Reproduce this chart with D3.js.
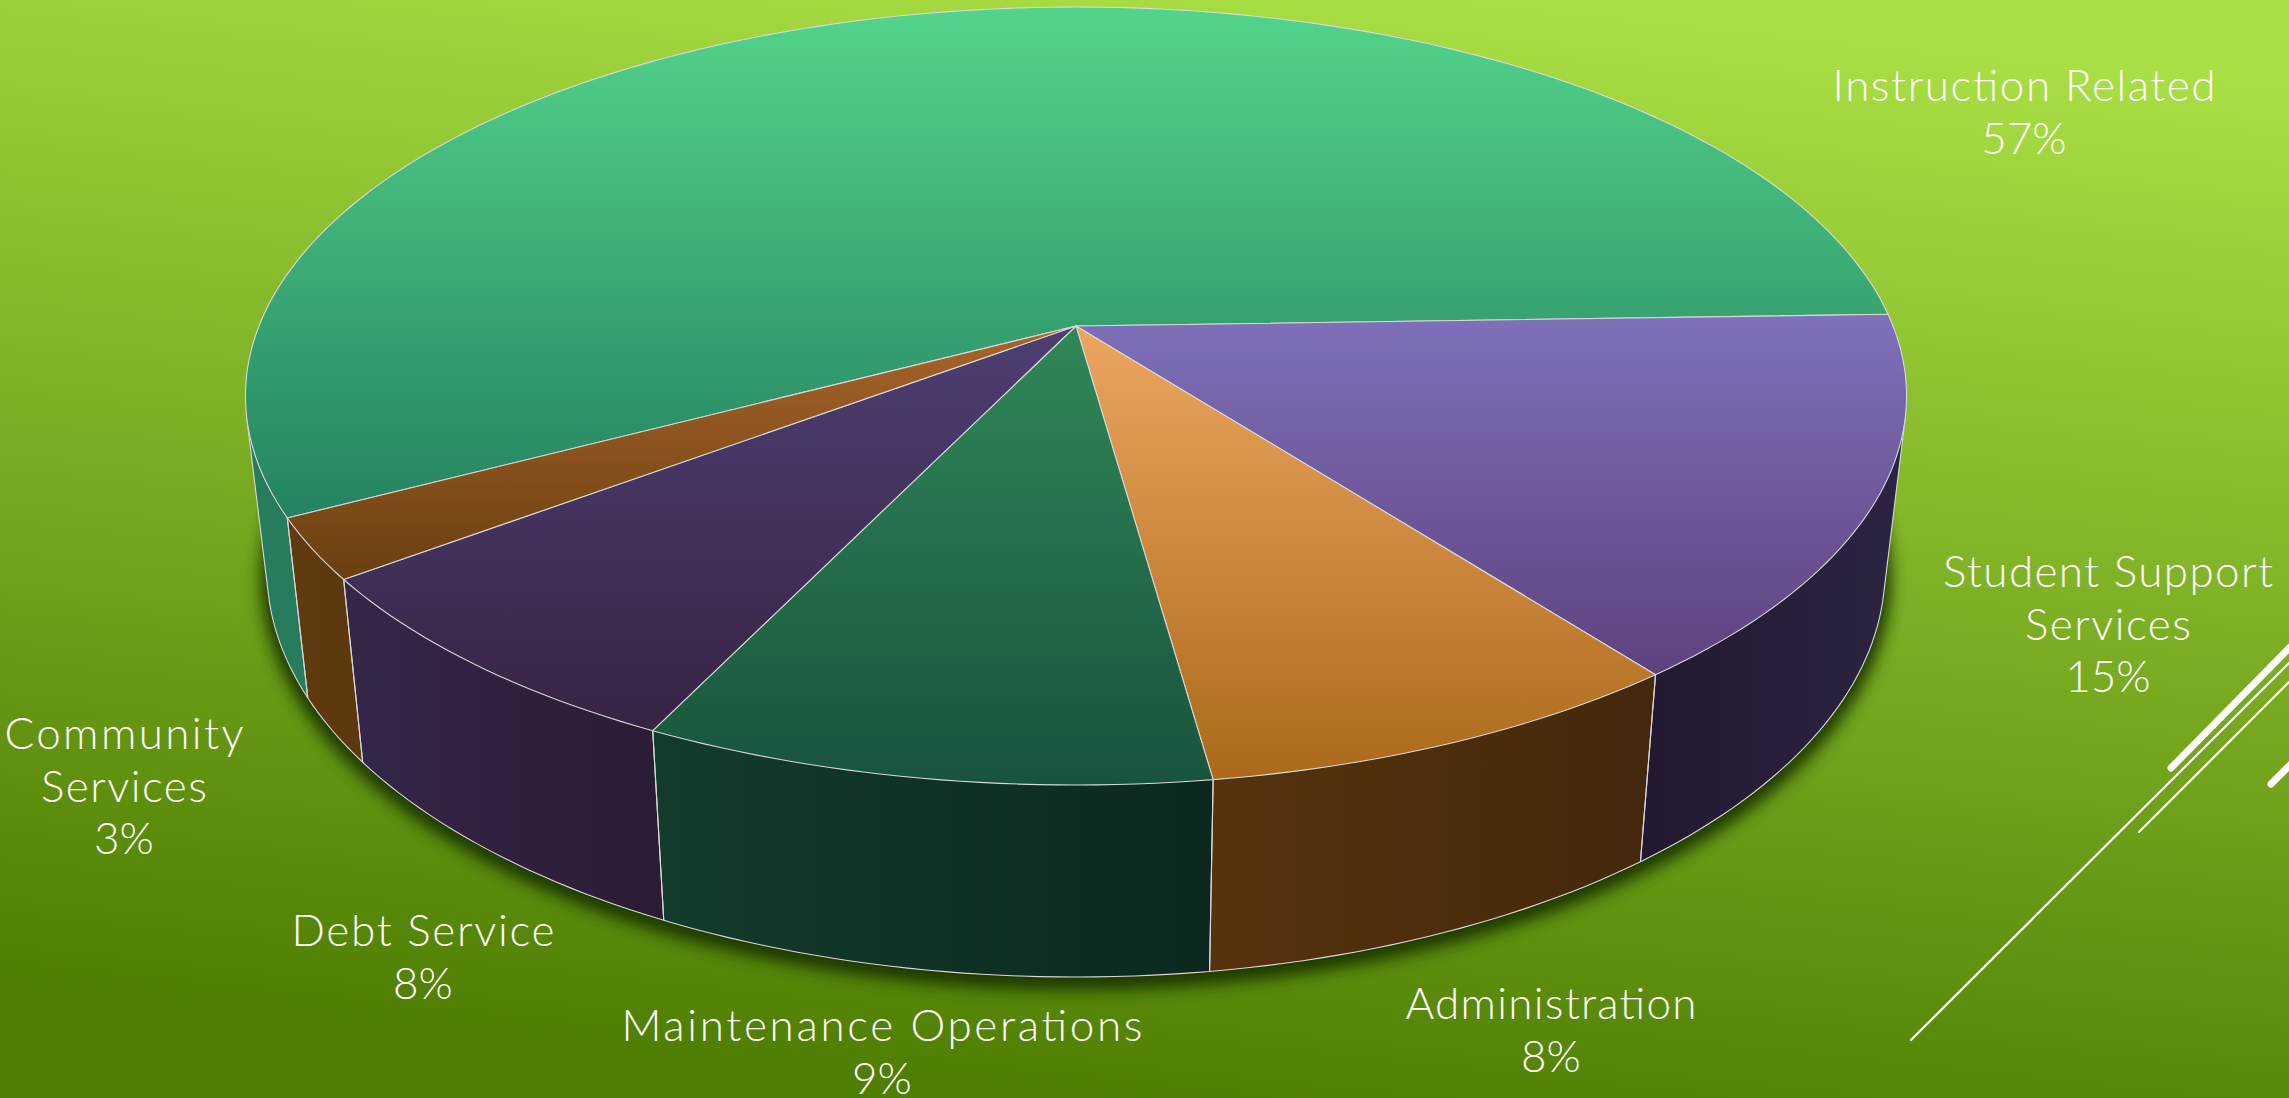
<!DOCTYPE html>
<html>
<head>
<meta charset="utf-8">
<script src="https://cdn.jsdelivr.net/npm/d3@7"></script>
<style>
    html, body { margin: 0; padding: 0; overflow: hidden; }
    text { font-family: Lato, sans-serif; font-weight: 300; fill: #fff; }
</style>
</head>
<body>
<svg id="drawing_region"></svg>
<script>
const categories = ["Instruction Related", "Student Support Services", "Administration", "Maintenance Operations", "Debt Service", "Community Services"];
const values = [57.25, 15.1, 8.2, 9.35, 7.6, 2.52];

// label lines and where they sit
const labelLines = [["Instruction Related"], ["Student Support", "Services"], ["Administration"], ["Maintenance Operations"], ["Debt Service"], ["Community", "Services"]];
const labelWidths = [[383], [330, 166], [291], [521], [263], [239, 166]];
const labelX = [2024, 2108, 1551, 882, 423, 124];
const labelY = [101, 587, 1019, 1041, 946, 749];

const topColors = [["#53d48b", "#258360"], ["#7f71ba", "#5e427e"], ["#eda560", "#ab6a1a"], ["#308858", "#19533d"], ["#4e3f74", "#372443"], ["#a9652b", "#693f11"]];
const wallColors = [["#277c5c", "#277c5c"], ["#231830", "#2c2442"], ["#56330c", "#44280d"], ["#133c2c", "#0c281e"], ["#352748", "#2a1c33"], ["#613b10", "#5c380e"]];

const width = 2289, height = 1098;
const cx = 1076, cy = 326;
const k = 0.18, b = 317.7, a = 817;
const startDeg = 242.15;
const rad = Math.PI / 180;

const svg = d3.select('#drawing_region').attr('width', width).attr('height', height);
const defs = svg.append('defs');

const bg = defs.append('linearGradient').attr('id', 'bg')
    .attr('gradientUnits', 'userSpaceOnUse')
    .attr('x1', 1290).attr('y1', -20).attr('x2', 1170).attr('y2', 1108);
bg.append('stop').attr('offset', 0).attr('stop-color', '#a9de44');
bg.append('stop').attr('offset', 1).attr('stop-color', '#4f7e02');

defs.append('filter').attr('id', 'blur')
    .attr('x', '-5%').attr('y', '-5%').attr('width', '110%').attr('height', '110%')
    .append('feGaussianBlur').attr('stdDeviation', 8);

const pie = d3.pie().sort(null)
    .startAngle(startDeg * rad)
    .endAngle((startDeg + 360) * rad);
const arcs = pie(values);

// circle in the pie's plane -> screen, with perspective
function project(angle) {
    const u = Math.sin(angle), v = -Math.cos(angle);
    const w = 1 - k * v;
    return [cx + a * u / w, (cy + b * v) / w];
}
// same angle on the lower rim of the pie
function projectLow(angle) {
    const p = project(angle);
    return [cx + (p[0] - cx) * 0.974, p[1] + 180 + 0.045 * (p[1] - 518)];
}
function sample(a0, a1) {
    const n = Math.max(2, Math.ceil(Math.abs(a1 - a0) / 0.02));
    return d3.range(n + 1).map(i => a0 + (a1 - a0) * i / n);
}
const line = d3.line();

// angle where the side wall turns away from the viewer
function tangent(from, to) {
    const side = t => {
        const p = project(t), q = projectLow(t), n = project(t + 0.001);
        return (q[0] - p[0]) * (n[1] - p[1]) - (q[1] - p[1]) * (n[0] - p[0]);
    };
    let lo = from, hi = to;
    const s = side(lo);
    for (let i = 0; i < 40; i++) {
        const m = (lo + hi) / 2;
        if (side(m) * s > 0) lo = m; else hi = m;
    }
    return lo;
}
const frontFrom = tangent(60 * rad, 120 * rad);
const frontTo = tangent(240 * rad, 300 * rad);

// background
svg.append('rect').attr('width', width).attr('height', height).attr('fill', 'url(#bg)');

// theme lines at the right edge
const deco = [[1911, 1040, 2289, 663, 2.2], [2139, 832, 2289, 682, 2.2], [2171, 768, 2300, 637, 7], [2271, 784, 2300, 755, 7]];
svg.append('g').selectAll('line').data(deco).join('line')
    .attr('x1', d => d[0]).attr('y1', d => d[1]).attr('x2', d => d[2]).attr('y2', d => d[3])
    .attr('stroke', '#fff').attr('stroke-width', d => d[4]).attr('stroke-linecap', 'round');

// shadow
svg.append('path')
    .attr('d', line(sample(0, 2 * Math.PI).map(t => { const p = projectLow(t); return [p[0], p[1] + 7]; })) + 'Z')
    .attr('fill', '#1d3800')
    .attr('stroke', '#1d3800')
    .attr('stroke-width', 12)
    .attr('filter', 'url(#blur)');

// gradients per slice
topColors.forEach((c, i) => {
    const g = defs.append('linearGradient').attr('id', `top${i}`).attr('x1', 0).attr('y1', 0).attr('x2', 0).attr('y2', 1);
    g.append('stop').attr('offset', 0).attr('stop-color', c[0]);
    g.append('stop').attr('offset', 1).attr('stop-color', c[1]);
});
wallColors.forEach((c, i) => {
    const g = defs.append('linearGradient').attr('id', `wall${i}`).attr('x1', 0).attr('y1', 0).attr('x2', 1).attr('y2', 0);
    g.append('stop').attr('offset', 0).attr('stop-color', c[0]);
    g.append('stop').attr('offset', 1).attr('stop-color', c[1]);
});

// front-facing angle ranges of a slice
function frontRanges(d) {
    const out = [];
    [0, 2 * Math.PI].forEach(shift => {
        const a0 = Math.max(d.startAngle, frontFrom + shift);
        const a1 = Math.min(d.endAngle, frontTo + shift);
        if (a1 > a0) out.push([a0, a1]);
    });
    return out;
}
// wall as small quads, all wound the same way so overlaps never cancel
function wallPath(d) {
    let path = '';
    frontRanges(d).forEach(r => {
        d3.pairs(sample(r[0], r[1])).forEach(([s, t]) => {
            const quad = [project(s), project(t), projectLow(t), projectLow(s)];
            if (d3.polygonArea(quad) < 0) quad.reverse();
            path += line(quad) + 'Z';
        });
    });
    return path;
}
// lower rim plus the ruling at each end of the visible wall
function wallEdges(d) {
    let path = '';
    frontRanges(d).forEach(r => {
        path += line([project(r[0]), projectLow(r[0])]);
        path += line(sample(r[0], r[1]).map(projectLow));
        path += line([project(r[1]), projectLow(r[1])]);
    });
    return path;
}
function topPath(d) {
    return line([[cx, cy]].concat(sample(d.startAngle, d.endAngle).map(project))) + 'Z';
}

svg.append('g').selectAll('path').data(arcs).join('path')
    .attr('d', wallPath)
    .attr('fill', (d, i) => `url(#wall${i})`)
    .attr('fill-rule', 'nonzero');

svg.append('g').selectAll('path').data(arcs).join('path')
    .attr('d', wallEdges)
    .attr('fill', 'none')
    .attr('stroke', '#d8d8d8').attr('stroke-width', 1.1).attr('stroke-linejoin', 'round');

svg.append('g').selectAll('path').data(arcs).join('path')
    .attr('d', topPath)
    .attr('fill', (d, i) => `url(#top${i})`)
    .attr('stroke', '#d8d8d8').attr('stroke-width', 1.1).attr('stroke-linejoin', 'round');

// labels
const pct = d3.format('.0%');
const total = d3.sum(values);
const lineGap = 52.5;
const labels = svg.append('g').selectAll('text').data(categories).join('text')
    .attr('text-anchor', 'middle')
    .attr('font-size', 44);
labels.each(function (d, i) {
    const rows = labelLines[i].map((r, j) => ({ text: r, len: labelWidths[i][j] }))
        .concat({ text: pct(values[i] / total), len: null });
    d3.select(this).selectAll('tspan').data(rows).join('tspan')
        .attr('x', labelX[i])
        .attr('y', (r, j) => labelY[i] + j * lineGap)
        .attr('textLength', r => r.len)
        .text(r => r.text);
});
</script>
</body>
</html>
